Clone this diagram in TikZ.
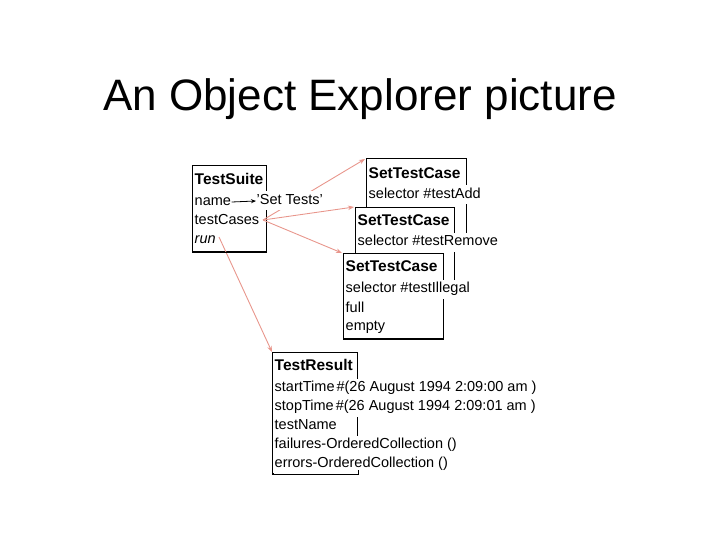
\documentclass[tikz,border=0pt]{standalone}
\usepackage{fontspec}
\setmainfont{Liberation Sans}
\usetikzlibrary{arrows.meta}
\definecolor{linkpink}{RGB}{232,150,140}
\begin{document}
\begin{tikzpicture}[x=1pt,y=-1pt,
  obox/.style={draw=black, line width=1.2pt, fill=white, inner sep=0pt, anchor=north west},
  edge/.style={draw=black, line width=1.2pt},
  fld/.style={anchor=west, inner xsep=0.5pt, inner ysep=2pt, text height=11pt, text depth=4pt, fill=white, font=\fontsize{14.5}{17}\selectfont},
  hdr/.style={fld, font=\fontsize{15.5}{18}\selectfont\bfseries},
  link/.style={draw=linkpink, line width=0.9pt, -{Stealth[length=6pt,width=4.5pt]}},
  ptr/.style={draw=black, line width=0.8pt, -{Stealth[length=5pt,width=4pt]}},
]
\useasboundingbox (0,0) rectangle (720,540);
% title
\node[font=\fontsize{44}{50}\selectfont, anchor=base, inner sep=0pt] (title) at (360,111) {An Object Explorer picture};

% source points of the links
\coordinate (tcsrc) at (263,220);
\coordinate (runsrc) at (219,237);

% boxes (back to front)
\node[obox, minimum width=74pt, minimum height=86pt] (suite) at (192,165) {};
\node[obox, minimum width=100pt, minimum height=82pt] (b1) at (366,158) {};

% links
\draw[link] (tcsrc) -- ([xshift=-1pt,yshift=-1pt]b1.north west);

\node[obox, minimum width=99pt, minimum height=78pt] (b2) at (355,207) {};
\node[obox, minimum width=100pt, minimum height=85pt] (b3) at (343,253) {};
\node[obox, minimum width=85pt, minimum height=121pt] (b4) at (272,352) {};

\draw[link] (tcsrc) -- ([xshift=-1pt]b2.north west);
\draw[link] (tcsrc) -- ([xshift=-1pt]b3.north west);
\draw[link] (runsrc) -- (b4.north west);

% TestSuite
\node[hdr] (ts) at (194,181) {TestSuite};
\node[fld] (nm) at (194,202) {name};
\node[fld] (tc) at (194,221) {testCases};
\node[fld, font=\fontsize{14.5}{17}\selectfont\itshape] (rn) at (194,240) {run};
\node[fld] (st) at (256,201) {'Set Tests'};
\draw[ptr] (nm.east) -- (st.west);

% SetTestCase 1
\node[hdr] (h1) at (368,175) {SetTestCase};
\node[fld] (s1) at (368,195) {selector \#testAdd};
% SetTestCase 2
\node[hdr] (h2) at (357,222) {SetTestCase};
\node[fld] (s2) at (357,242) {selector \#testRemove};
% SetTestCase 3
\node[hdr] (h3) at (345,268) {SetTestCase};
\node[fld] (s3) at (345,289) {selector \#testIllegal};
\node[fld] (f3) at (345,309) {full};
\node[fld] (e3) at (345,327) {empty};

% TestResult
\node[hdr] (h4) at (274,367) {TestResult};
\node[fld] (r1) at (274,388) {startTime\kern2pt\#(26 August 1994 2:09:00 am )};
\node[fld] (r2) at (274,407) {stopTime\kern2pt\#(26 August 1994 2:09:01 am )};
\node[fld] (r3) at (274,426) {testName};
\node[fld] (r4) at (274,445) {failures-OrderedCollection ()};
\node[fld] (r5) at (274,464) {errors-OrderedCollection ()};

% restore bottom edges hidden by the text backgrounds
\draw[edge] (suite.south west) -- (suite.south east);
\draw[edge] (b3.south west) -- (b3.south east);
\draw[edge] (b4.south west) -- (b4.south east) -- ++(0,-4);
\end{tikzpicture}
\end{document}
